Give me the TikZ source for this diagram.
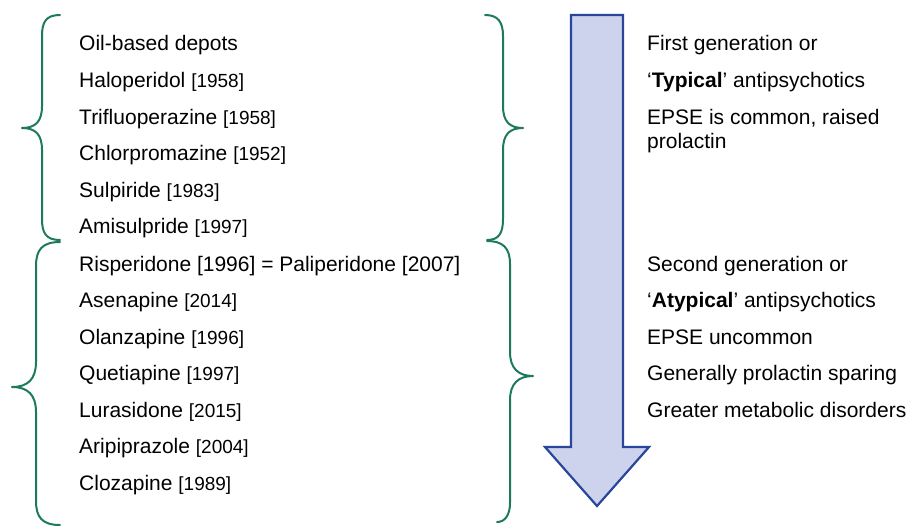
\documentclass[tikz,border=0pt]{standalone}
\usepackage{fontspec}
\setmainfont{Liberation Sans}
\definecolor{bracegreen}{HTML}{1E7A5E}
\definecolor{arrowfill}{HTML}{CDD3EC}
\definecolor{arrowline}{HTML}{28479A}
\newcommand{\yr}[1]{{\fontsize{19}{21}\selectfont #1}}
\begin{document}
\begin{tikzpicture}[x=1pt,y=-1pt,
  lbl/.style={anchor=base west,inner sep=0pt,font=\fontsize{21}{24}\selectfont},
  bracepath/.style={draw=bracegreen,line width=2pt,line cap=round,line join=round},
  bigarrow/.style={draw=arrowline,fill=arrowfill,line width=2.2pt,line join=miter}]
\useasboundingbox (0,0) rectangle (909,527);
% arrow
\draw[bigarrow] (571,15) -- (623,15) -- (623,447) -- (649,447) -- (597,506) -- (545,447) -- (571,447) -- cycle;
% left braces
\draw[bracepath] (60,15) .. controls (46,15) and (42,22) .. (42,36) -- (42,106)
  .. controls (42,121) and (36,128) .. (22,128)
  .. controls (36,128) and (42,135) .. (42,150) -- (42,219)
  .. controls (42,233) and (46,240) .. (60,240);
\draw[bracepath] (60,242) .. controls (42,242) and (36,250) .. (36,266) -- (36,362)
  .. controls (36,379) and (28,387) .. (12,387)
  .. controls (28,387) and (36,395) .. (36,412) -- (36,501)
  .. controls (36,517) and (42,525) .. (60,525);
% right braces
\draw[bracepath] (485,15) .. controls (498,15) and (503,22) .. (503,36) -- (503,106)
  .. controls (503,121) and (509,128) .. (523,128)
  .. controls (509,128) and (503,135) .. (503,150) -- (503,219)
  .. controls (503,233) and (499,240) .. (487,240);
\draw[bracepath] (487,241) .. controls (503,241) and (510,248) .. (510,264) -- (510,352)
  .. controls (510,368) and (518,376) .. (533,376)
  .. controls (518,376) and (510,384) .. (510,400) -- (510,503)
  .. controls (510,515) and (505,522) .. (497,522);
% left list
\node[lbl] (t1) at (79,51) {Oil-based depots};
\node[lbl] (t2) at (79,87.5) {Haloperidol \yr{[1958]}};
\node[lbl] (t3) at (79,124) {Trifluoperazine \yr{[1958]}};
\node[lbl] (t4) at (79,160.5) {Chlorpromazine \yr{[1952]}};
\node[lbl] (t5) at (79,197) {Sulpiride \yr{[1983]}};
\node[lbl] (t6) at (79,233.5) {Amisulpride \yr{[1997]}};
\node[lbl] (t7) at (79,271) {Risperidone [1996] = Paliperidone [2007]};
\node[lbl] (t8) at (79,307.5) {Asenapine \yr{[2014]}};
\node[lbl] (t9) at (79,344) {Olanzapine \yr{[1996]}};
\node[lbl] (t10) at (79,380.5) {Quetiapine \yr{[1997]}};
\node[lbl] (t11) at (79,417) {Lurasidone \yr{[2015]}};
\node[lbl] (t12) at (79,453.5) {Aripiprazole \yr{[2004]}};
\node[lbl] (t13) at (79,490) {Clozapine \yr{[1989]}};
% right texts
\node[lbl] (r1) at (647,51) {First generation or};
\node[lbl] (r2) at (647,87.5) {‘\textbf{Typical}’ antipsychotics};
\node[lbl] (r3) at (647,124) {EPSE is common, raised};
\node[lbl] (r4) at (647,148) {prolactin};
\node[lbl] (s1) at (647,271) {Second generation or};
\node[lbl] (s2) at (647,307.5) {‘\textbf{Atypical}’ antipsychotics};
\node[lbl] (s3) at (647,344) {EPSE uncommon};
\node[lbl] (s4) at (647,380.5) {Generally prolactin sparing};
\node[lbl] (s5) at (647,417) {Greater metabolic disorders};
\end{tikzpicture}
\end{document}
